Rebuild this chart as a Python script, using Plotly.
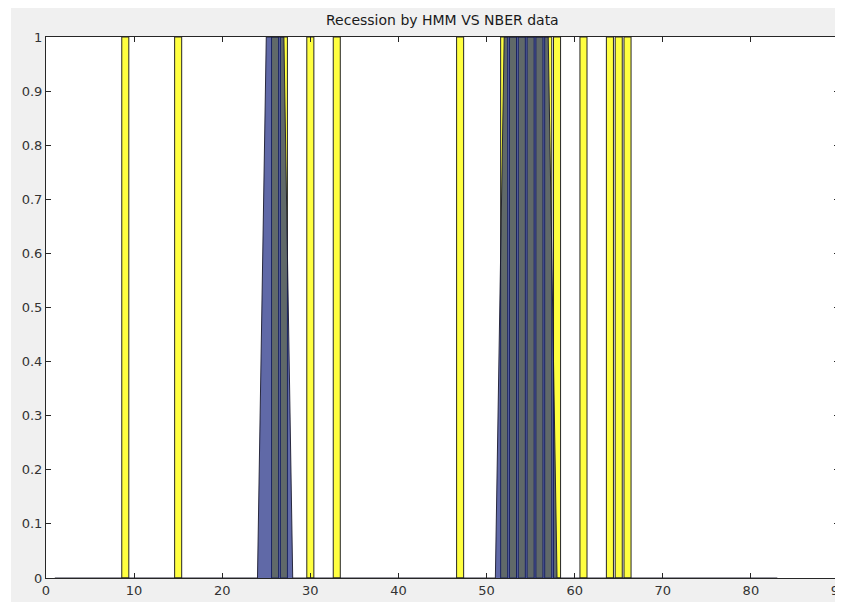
import plotly.graph_objects as go

# HMM-estimated recession indicator per period (1..83)
quarters = list(range(1, 84))
hmm_recession = [0, 0, 0, 0, 0, 0, 0, 0, 0, 0,
                 0, 0, 0, 0, 0, 0, 0, 0, 0, 0,
                 0, 0, 0, 0, 1, 1, 1, 0, 0, 0,
                 0, 0, 0, 0, 0, 0, 0, 0, 0, 0,
                 0, 0, 0, 0, 0, 0, 0, 0, 0, 0,
                 0, 1, 1, 1, 1, 1, 1, 0, 0, 0,
                 0, 0, 0, 0, 0, 0, 0, 0, 0, 0,
                 0, 0, 0, 0, 0, 0, 0, 0, 0, 0,
                 0, 0, 0]

# NBER recession periods
nber_quarters = [9, 15, 26, 27, 30, 33, 47, 52, 53, 54, 55, 56, 57, 58, 61, 64, 65, 66]
nber_recession = [1, 1, 1, 1, 1, 1, 1, 1, 1, 1, 1, 1, 1, 1, 1, 1, 1, 1]

x_ticks = [0, 10, 20, 30, 40, 50, 60, 70, 80, 90]
y_ticks = [0, 0.1, 0.2, 0.3, 0.4, 0.5, 0.6, 0.7, 0.8, 0.9, 1]
y_tick_labels = ["0", "0.1", "0.2", "0.3", "0.4", "0.5", "0.6", "0.7", "0.8", "0.9", "1"]

# page body has an 8px margin, so the figure is sized to fill the rest of the window
W, H = 835, 594
ML, MR, MT, MB = 38, 4, 29, 24
PW = W - ML - MR
PH = H - MT - MB

font_family = "DejaVu Sans, Liberation Sans, Arial, sans-serif"
axis_color = "#262626"

fig = go.Figure()

fig.add_trace(go.Bar(
    x=nber_quarters, y=nber_recession, width=0.8,
    marker=dict(color="#ffff40", line=dict(color="#262626", width=1)),
    name="NBER",
))

fig.add_trace(go.Scatter(
    x=quarters, y=hmm_recession, mode="lines", fill="tozeroy",
    fillcolor="rgba(21,34,126,0.68)",
    line=dict(color="rgba(25,25,45,0.9)", width=1),
    name="HMM",
))

def px_x(p):
    return (p - ML) / PW

def px_y(p):
    return (H - MB - p) / PH

shapes = [
    # narrow white strip at the left of the figure
    dict(type="rect", xref="paper", yref="paper", x0=px_x(-5), x1=px_x(3),
         y0=px_y(H + 5), y1=px_y(-5), fillcolor="white", line=dict(width=0), layer="below"),
]

fig.update_layout(
    width=W, height=H,
    margin=dict(l=ML, r=MR, t=MT, b=MB, autoexpand=False),
    paper_bgcolor="#f0f0f0",
    plot_bgcolor="white",
    showlegend=False,
    shapes=shapes,
    font=dict(family=font_family, size=13, color="#262626"),
    annotations=[dict(
        text="Recession by HMM VS NBER data", xref="paper", yref="paper",
        x=0.5, y=px_y(12), xanchor="center", yanchor="middle",
        showarrow=False, font=dict(family=font_family, size=14, color="#1a1a1a"),
    )],
)

fig.update_xaxes(
    range=[0, 90], tickmode="array", tickvals=x_ticks, automargin=False,
    ticklabeloverflow="allow",
    ticks="inside", ticklen=5, tickcolor=axis_color, tickwidth=1,
    showline=True, linecolor=axis_color, linewidth=1, mirror="ticks",
    showgrid=False, zeroline=False,
    tickfont=dict(family=font_family, size=13, color="#333333"),
)
fig.update_yaxes(
    range=[0, 1], tickmode="array", tickvals=y_ticks, ticktext=y_tick_labels, automargin=False,
    ticklabeloverflow="allow",
    ticks="inside", ticklen=5, tickcolor=axis_color, tickwidth=1,
    showline=True, linecolor=axis_color, linewidth=1, mirror="ticks",
    showgrid=False, zeroline=False,
    tickfont=dict(family=font_family, size=13, color="#333333"),
)

fig.write_html("out.html")
